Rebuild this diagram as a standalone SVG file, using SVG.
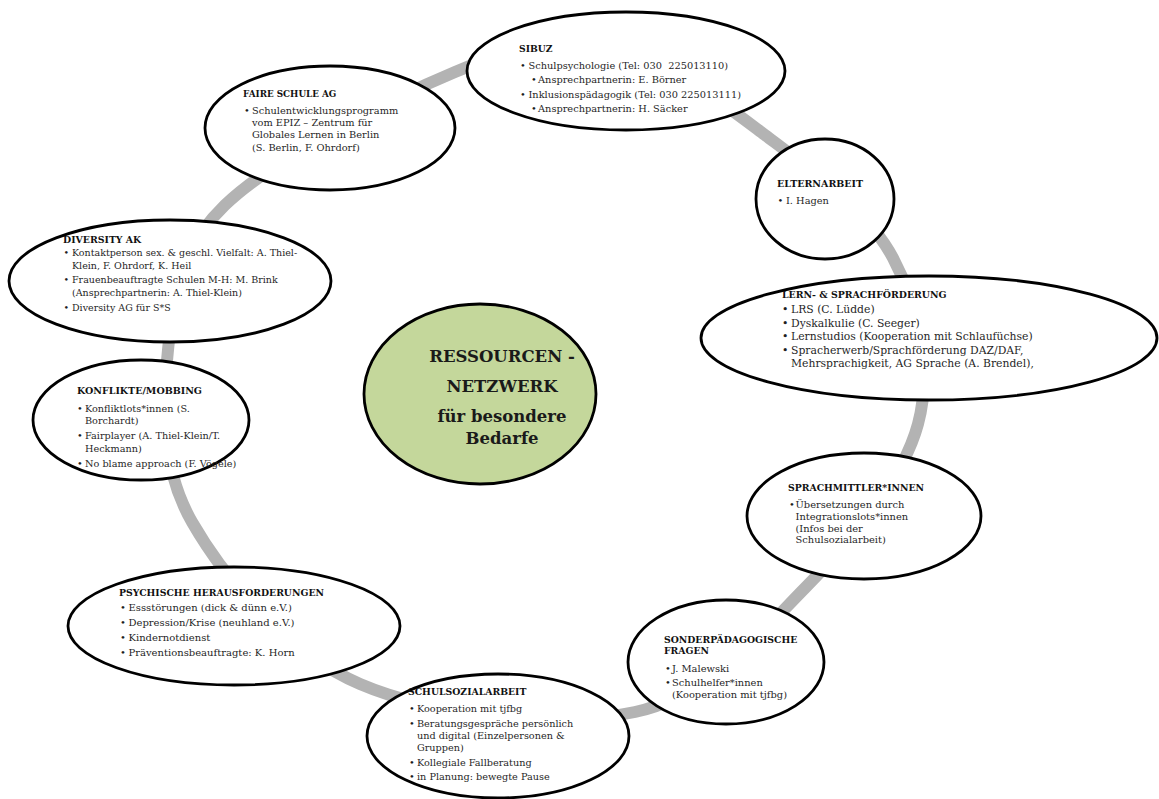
<svg xmlns="http://www.w3.org/2000/svg" width="1159" height="799" viewBox="0 0 1159 799">
<style>
  .ring { fill: none; stroke: #b3b3b3; stroke-width: 12; }
  .node { fill: #ffffff; stroke: #000000; stroke-width: 2.8; }
  .hub { fill: #c4d79b; stroke: #000000; stroke-width: 2.8; }
  text { font-family: "DejaVu Serif", "Liberation Serif", serif; fill: #1f1f1f; }
  .t { font-weight: bold; fill: #111111; }
  .c { font-weight: bold; fill: #1a1a1a; font-size: 16.5px; text-anchor: middle; }
</style>
<rect width="1159" height="799" fill="#ffffff"/>
<g id="connectors">
  <path class="ring" d="M610,45 C661.7,55.5 717.8,99.5 765,135 C812.2,170.5 867.5,209.8 893,258 C918.5,306.2 932.7,369 918,424 C903.3,479 852.2,540 805,588 C757.8,636 709.2,696 635,712 C560.8,728 433.8,715.7 360,684 C286.2,652.3 224,577.7 192,522 C160,466.3 162.5,402.8 168,350 C173.5,297.2 177.2,251.3 225,205 C272.8,158.7 390.8,98.7 455,72 C519.2,45.3 558.3,34.5 610,45 Z"/>
</g>
<g id="hub">
  <ellipse class="hub" cx="480" cy="394" rx="116" ry="90"/>
  <text class="c" x="502" y="362">RESSOURCEN -</text>
  <text class="c" x="502" y="392">NETZWERK</text>
  <text class="c" x="502" y="422">für besondere</text>
  <text class="c" x="502" y="443.5">Bedarfe</text>
</g>
<g id="sibuz" font-size="9.8">
  <ellipse class="node" cx="626" cy="71" rx="159" ry="59"/>
  <text class="t" x="519" y="52" font-size="9.2">SIBUZ</text>
  <text x="520" y="69">•</text><text x="528.5" y="69">Schulpsychologie (Tel: 030&#160; 225013110)</text>
  <text x="531" y="83">•</text><text x="538" y="83">Ansprechpartnerin: E. Börner</text>
  <text x="520" y="98">•</text><text x="528.5" y="98">Inklusionspädagogik (Tel: 030 225013111)</text>
  <text x="531" y="112">•</text><text x="538" y="112">Ansprechpartnerin: H. Säcker</text>
</g>
<g id="faire" font-size="9.8">
  <ellipse class="node" cx="330" cy="128" rx="125" ry="62"/>
  <text class="t" x="243" y="97" font-size="8.8">FAIRE SCHULE AG</text>
  <text x="244" y="114">•</text>
  <text x="252" y="114">Schulentwicklungsprogramm</text>
  <text x="252" y="126.2">vom EPIZ – Zentrum für</text>
  <text x="252" y="138.4">Globales Lernen in Berlin</text>
  <text x="252" y="150.6">(S. Berlin, F. Ohrdorf)</text>
</g>
<g id="elternarbeit" font-size="9.8">
  <ellipse class="node" cx="825" cy="199" rx="69" ry="60"/>
  <text class="t" x="777" y="187" font-size="9.5">ELTERNARBEIT</text>
  <text x="777.5" y="204">•</text><text x="786" y="204">I. Hagen</text>
</g>
<g id="diversity" font-size="9.5">
  <ellipse class="node" cx="170" cy="281" rx="161" ry="61"/>
  <text class="t" x="63" y="243" font-size="9.4">DIVERSITY AK</text>
  <text x="63.5" y="256">•</text>
  <text x="72" y="256">Kontaktperson sex. &amp; geschl. Vielfalt: A. Thiel-</text>
  <text x="72" y="268.5">Klein, F. Ohrdorf, K. Heil</text>
  <text x="63.5" y="283.3">•</text>
  <text x="72" y="283.3">Frauenbeauftragte Schulen M-H: M. Brink</text>
  <text x="72" y="296">(Ansprechpartnerin: A. Thiel-Klein)</text>
  <text x="63.5" y="310.7">•</text>
  <text x="72" y="310.7">Diversity AG für S*S</text>
</g>
<g id="lern" font-size="10.8">
  <ellipse class="node" cx="929" cy="338" rx="228" ry="62"/>
  <text class="t" x="782" y="298" font-size="9.4">LERN- &amp; SPRACHFÖRDERUNG</text>
  <text x="782" y="313.3">•</text><text x="791" y="313.3">LRS (C. Lüdde)</text>
  <text x="782" y="326.7">•</text><text x="791" y="326.7">Dyskalkulie (C. Seeger)</text>
  <text x="782" y="340">•</text><text x="791" y="340">Lernstudios (Kooperation mit Schlaufüchse)</text>
  <text x="782" y="354">•</text><text x="791" y="354">Spracherwerb/Sprachförderung DAZ/DAF,</text>
  <text x="791" y="367.3">Mehrsprachigkeit, AG Sprache (A. Brendel),</text>
</g>
<g id="konflikte" font-size="9.7">
  <ellipse class="node" cx="141" cy="420" rx="108" ry="60"/>
  <text class="t" x="77" y="394" font-size="9.5">KONFLIKTE/MOBBING</text>
  <text x="77" y="411.7">•</text><text x="85" y="411.7">Konfliktlots*innen (S.</text>
  <text x="85" y="424">Borchardt)</text>
  <text x="77" y="439">•</text><text x="85" y="439">Fairplayer (A. Thiel-Klein/T.</text>
  <text x="85" y="451.5">Heckmann)</text>
  <text x="77" y="466.5">•</text><text x="85" y="466.5">No blame approach (F. Vögele)</text>
</g>
<g id="sprachmittler" font-size="9.9">
  <ellipse class="node" cx="864" cy="516" rx="117" ry="63"/>
  <text class="t" x="788" y="491" font-size="9.3">SPRACHMITTLER*INNEN</text>
  <text x="789" y="508.3">•</text>
  <text x="795.5" y="508.3">Übersetzungen durch</text>
  <text x="795.5" y="520">Integrationslots*innen</text>
  <text x="795.5" y="531.7">(Infos bei der</text>
  <text x="795.5" y="543.3">Schulsozialarbeit)</text>
</g>
<g id="psychische" font-size="10">
  <ellipse class="node" cx="234" cy="626" rx="166" ry="59"/>
  <text class="t" x="119" y="596" font-size="9.3">PSYCHISCHE HERAUSFORDERUNGEN</text>
  <text x="120" y="610.7">•</text><text x="128.5" y="610.7">Essstörungen (dick &amp; dünn e.V.)</text>
  <text x="120" y="625.7">•</text><text x="128.5" y="625.7">Depression/Krise (neuhland e.V.)</text>
  <text x="120" y="640.7">•</text><text x="128.5" y="640.7">Kindernotdienst</text>
  <text x="120" y="655.7">•</text><text x="128.5" y="655.7">Präventionsbeauftragte: K. Horn</text>
</g>
<g id="sonderpaedagogik" font-size="9.9">
  <ellipse class="node" cx="726" cy="662" rx="98" ry="62"/>
  <text class="t" x="664" y="642.7" font-size="9.3">SONDERPÄDAGOGISCHE</text>
  <text class="t" x="664" y="654.3" font-size="9.3">FRAGEN</text>
  <text x="665" y="671.7">•</text><text x="672" y="671.7">J. Malewski</text>
  <text x="665" y="686">•</text><text x="672" y="686">Schulhelfer*innen</text>
  <text x="672" y="697.7">(Kooperation mit tjfbg)</text>
</g>
<g id="schulsozialarbeit" font-size="9.7">
  <ellipse class="node" cx="498" cy="736" rx="131" ry="62"/>
  <text class="t" x="408" y="695" font-size="9.3">SCHULSOZIALARBEIT</text>
  <text x="409" y="711.7">•</text><text x="417" y="711.7">Kooperation mit tjfbg</text>
  <text x="409" y="726.7">•</text><text x="417" y="726.7">Beratungsgespräche persönlich</text>
  <text x="417" y="739">und digital (Einzelpersonen &amp;</text>
  <text x="417" y="750.5">Gruppen)</text>
  <text x="409" y="766">•</text><text x="417" y="766">Kollegiale Fallberatung</text>
  <text x="409" y="780">•</text><text x="417" y="780">in Planung: bewegte Pause</text>
</g>
</svg>
